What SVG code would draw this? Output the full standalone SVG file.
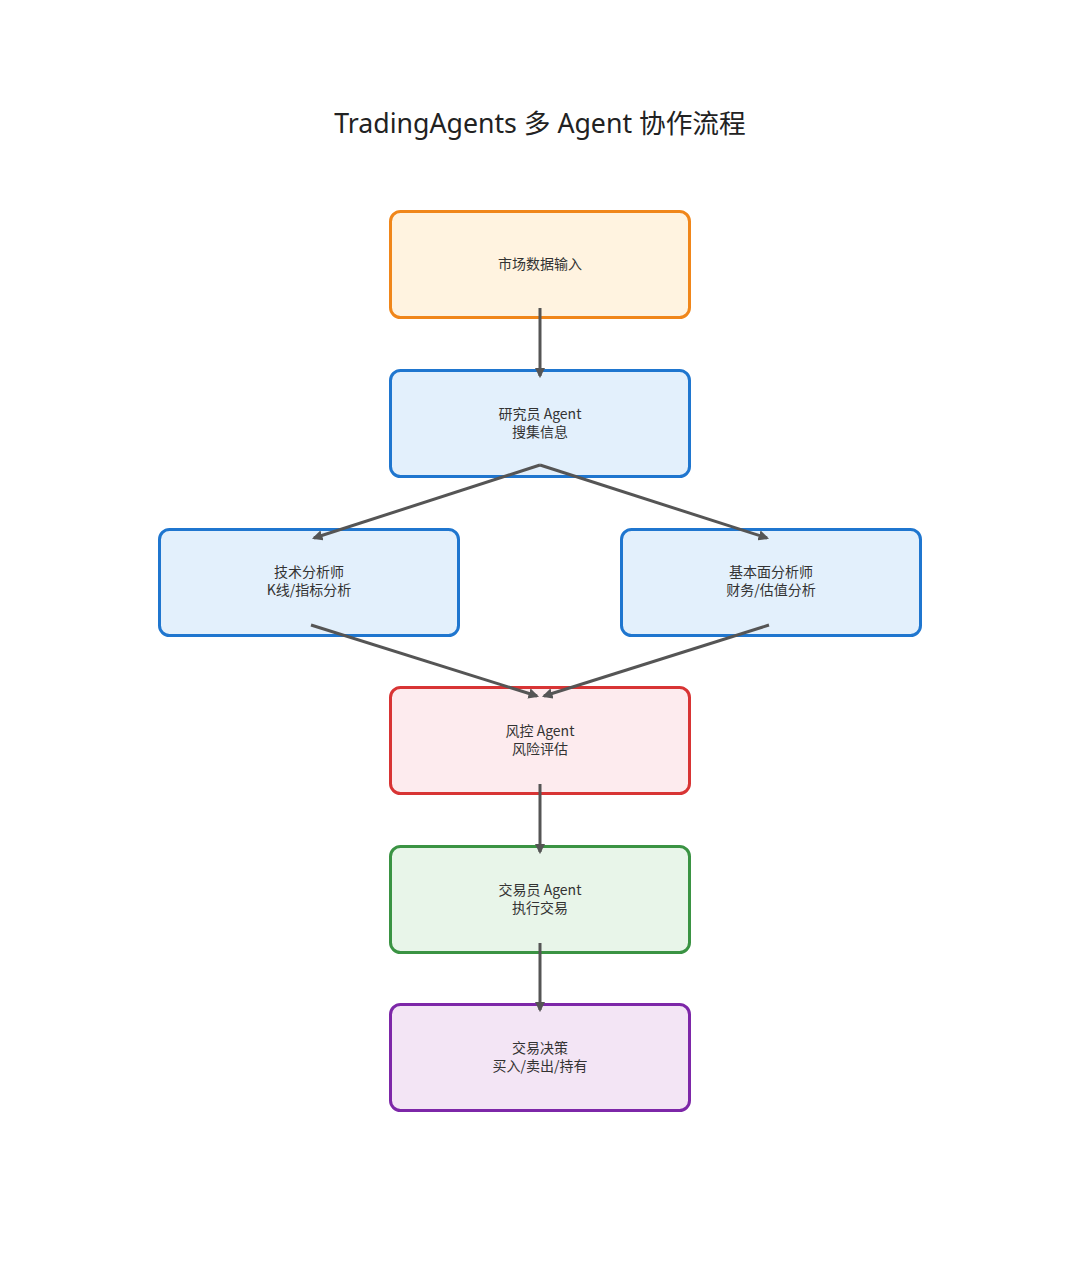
<svg xmlns="http://www.w3.org/2000/svg" width="1080" height="1276" viewBox="0 0 1080 1276">
<defs>
<style>
.t{font-family:"Noto Sans CJK SC","Noto Sans",sans-serif;fill:#333;font-size:14px;text-anchor:middle}
.title{font-family:"Noto Sans","Noto Sans CJK SC",sans-serif;fill:#222;font-size:26.7px;text-anchor:middle}
.b{stroke-width:3}
.c{stroke:#555;stroke-width:3;fill:none;marker-end:url(#ah)}
</style>
<marker id="ah" viewBox="0 0 10 10" refX="8" refY="5" markerWidth="3.5" markerHeight="3.5" orient="auto" markerUnits="strokeWidth">
<path d="M0,0 L10,5 L0,10 z" fill="#555"/>
</marker>
</defs>
<rect width="1080" height="1276" fill="#fff"/>
<text class="title" x="540" y="133">TradingAgents 多 Agent 协作流程</text>
<g id="n1"><rect class="b" x="390.5" y="211.5" width="299" height="106" rx="10" fill="#fff3e0" stroke="#f0861a"/><text class="t" x="540" y="269">市场数据输入</text></g>
<g id="n2"><rect class="b" x="390.5" y="370.5" width="299" height="106" rx="10" fill="#e3f0fc" stroke="#1f76cf"/><text class="t" x="540" y="419">研究员 Agent</text><text class="t" x="540" y="437">搜集信息</text></g>
<g id="n3"><rect class="b" x="159.5" y="529.5" width="299" height="106" rx="10" fill="#e3f0fc" stroke="#1f76cf"/><text class="t" x="309" y="577">技术分析师</text><text class="t" x="309" y="595">K线/指标分析</text></g>
<g id="n4"><rect class="b" x="621.5" y="529.5" width="299" height="106" rx="10" fill="#e3f0fc" stroke="#1f76cf"/><text class="t" x="771" y="577">基本面分析师</text><text class="t" x="771" y="595">财务/估值分析</text></g>
<g id="n5"><rect class="b" x="390.5" y="687.5" width="299" height="106" rx="10" fill="#fdebee" stroke="#d83434"/><text class="t" x="540" y="736">风控 Agent</text><text class="t" x="540" y="754">风险评估</text></g>
<g id="n6"><rect class="b" x="390.5" y="846.5" width="299" height="106" rx="10" fill="#e8f5e9" stroke="#3a9343"/><text class="t" x="540" y="895">交易员 Agent</text><text class="t" x="540" y="913">执行交易</text></g>
<g id="n7"><rect class="b" x="390.5" y="1004.5" width="299" height="106" rx="10" fill="#f3e5f5" stroke="#7d27a8"/><text class="t" x="540" y="1053">交易决策</text><text class="t" x="540" y="1071">买入/卖出/持有</text></g>
<g id="connectors">
<line class="c" x1="540" y1="308" x2="540" y2="376"/>
<line class="c" x1="540" y1="465" x2="314" y2="538"/>
<line class="c" x1="540" y1="465" x2="767" y2="538"/>
<line class="c" x1="311" y1="625" x2="537" y2="696"/>
<line class="c" x1="769" y1="625" x2="544" y2="696"/>
<line class="c" x1="540" y1="784" x2="540" y2="852"/>
<line class="c" x1="540" y1="943" x2="540" y2="1010"/>
</g>
</svg>
